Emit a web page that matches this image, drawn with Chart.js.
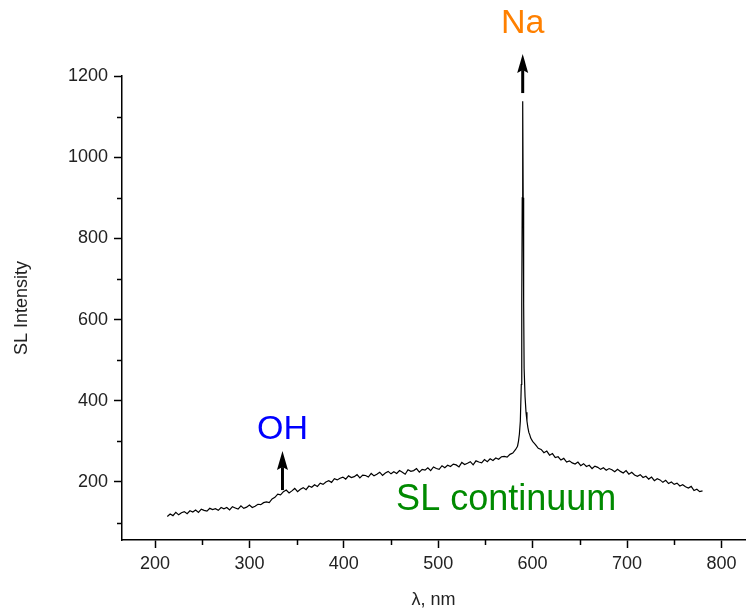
<!DOCTYPE html>
<html>
<head>
<meta charset="utf-8">
<script src="https://cdn.jsdelivr.net/npm/chart.js@4.4.1/dist/chart.umd.min.js"></script>
<style>
html,body{margin:0;padding:0;background:#fff;}
#wrap{width:746px;height:612px;}
</style>
</head>
<body>
<div id="wrap"><canvas id="c" width="746" height="612"></canvas></div>
<script>
// ---- data ----
const wavelengths = [
213,216,219,222,225,228,231,234,237,240,243,246,249,252,255,258,261,264,267,270,
273,276,279,282,285,288,291,294,297,300,303,306,309,312,315,318,321,324,327,330,
333,336,339,342,345,348,351,354,357,360,363,366,369,372,375,378,381,384,387,390,
393,396,399,402,405,408,411,414,417,420,423,426,429,432,435,438,441,444,447,450,
453,456,459,462,465,468,471,474,477,480,483,486,489,492,495,498,501,504,507,510,
513,516,519,522,525,528,531,534,537,540,543,546,549,552,555,558,561,564,567,570,
573,576,579,582,584,585,586,587,588,588.5,589,589.5,590,590.5,591,592,593,594,595,596,
597,598,600,603,606,609,612,615,618,621,624,627,630,633,636,639,642,645,648,651,
654,657,660,663,666,669,672,675,678,681,684,687,690,693,696,699,702,705,708,711,
714,717,720,723,726,729,732,735,738,741,744,747,750,753,756,759,762,765,768,771,
774,777,780
];
const intensity = [
115,121,117,125,119,124,127,122,129,126,131,125,133,130,128,135,132,134,130,137,
134,137,131,139,136,133,141,135,138,143,137,140,145,144,149,151,149,158,162,170,
168,176,180,173,178,184,176,182,186,181,190,187,193,189,197,194,200,203,199,208,
205,209,212,207,215,211,213,218,210,217,216,212,221,215,219,224,216,222,226,220,
225,221,228,224,219,230,226,228,233,224,231,229,235,228,237,233,231,240,235,241,
238,244,242,237,248,243,246,250,242,252,249,247,255,250,257,253,259,256,262,263,
261,268,271,280,288,300,318,350,440,640,900,1138,900,640,480,410,372,350,334,322,
316,308,300,292,283,280,272,276,266,270,260,262,254,258,249,252,247,244,249,240,
245,238,241,233,239,236,231,235,229,233,230,225,231,226,222,228,219,224,217,214,
218,211,214,207,212,203,208,205,199,204,196,200,194,197,190,193,188,185,189,179,
182,176,178
];
const xMajorTicks = [200,300,400,500,600,700,800];
const xMinorTicks = [250,350,450,550,650,750];
const yMajorTicks = [200,400,600,800,1000,1200];
const yMinorTicks = [100,300,500,700,900,1100];
const xTitle = 'λ, nm';
const yTitle = 'SL Intensity';
const annotations = [
  {text:'Na', color:'#ff8000', x:589.5, y:1330, size:34, arrowFrom:1158, arrowTo:1254},
  {text:'OH', color:'#0000ff', x:335, y:330, size:34, arrowFrom:180, arrowTo:276},
  {text:'SL continuum', color:'#008a00', x:572, y:156, size:36}
];

const FONT = "'Liberation Sans', Arial, sans-serif";

const extras = {
  id:'extras',
  afterDraw(chart){
    const ctx = chart.ctx;
    const xs = chart.scales.x, ys = chart.scales.y;
    ctx.save();
    ctx.strokeStyle = '#000';
    ctx.lineWidth = 1.5;
    xMinorTicks.forEach(v=>{
      const px = Math.round(xs.getPixelForValue(v))+0.5;
      ctx.beginPath(); ctx.moveTo(px, xs.top); ctx.lineTo(px, xs.top+5); ctx.stroke();
    });
    yMinorTicks.forEach(v=>{
      const py = Math.round(ys.getPixelForValue(v))+0.5;
      ctx.beginPath(); ctx.moveTo(ys.right, py); ctx.lineTo(ys.right-5, py); ctx.stroke();
    });
    annotations.forEach(a=>{
      const px = xs.getPixelForValue(a.x);
      const py = ys.getPixelForValue(a.y);
      ctx.fillStyle = a.color;
      ctx.font = a.size + 'px ' + FONT;
      ctx.textAlign = 'center';
      ctx.textBaseline = 'middle';
      ctx.fillText(a.text, px, py);
      if (a.arrowFrom !== undefined){
        const y0 = ys.getPixelForValue(a.arrowFrom);
        const y1 = ys.getPixelForValue(a.arrowTo);
        ctx.strokeStyle = '#000';
        ctx.fillStyle = '#000';
        ctx.lineWidth = 3;
        ctx.beginPath(); ctx.moveTo(px, y0); ctx.lineTo(px, y1+16); ctx.stroke();
        ctx.beginPath();
        ctx.moveTo(px, y1);
        ctx.lineTo(px-5.5, y1+19);
        ctx.lineTo(px, y1+16);
        ctx.lineTo(px+5.5, y1+19);
        ctx.closePath(); ctx.fill();
      }
    });
    ctx.restore();
  }
};

new Chart(document.getElementById('c'), {
  type:'line',
  data:{
    datasets:[{
      data: wavelengths.map((w,i)=>({x:w, y:intensity[i]})),
      borderColor:'#000',
      borderWidth:1.2,
      pointRadius:0,
      tension:0,
      fill:false
    }]
  },
  options:{
    responsive:false,
    animation:false,
    devicePixelRatio:1,
    layout:{padding:{top:76,right:1,bottom:0,left:0}},
    plugins:{legend:{display:false}, tooltip:{enabled:false}},
    scales:{
      x:{
        type:'linear', min:165, max:825,
        afterBuildTicks(s){ s.ticks = xMajorTicks.map(v=>({value:v})); },
        afterFit(s){ s.height = 72; },
        grid:{display:true, drawOnChartArea:false, drawTicks:true, tickLength:8, tickColor:'#000', tickWidth:1.5},
        border:{display:true, color:'#000', width:1.5},
        ticks:{color:'#222', font:{family:FONT, size:18}, padding:5, maxRotation:0, autoSkip:false,
               callback:(v)=>String(v)},
        title:{display:true, text:xTitle, color:'#222', font:{family:FONT, size:18}, padding:{top:0,bottom:1}}
      },
      y:{
        type:'linear', min:57, max:1200,
        afterBuildTicks(s){ s.ticks = yMajorTicks.map(v=>({value:v})); },
        afterFit(s){ s.width = 122; },
        grid:{display:true, drawOnChartArea:false, drawTicks:true, tickLength:8, tickColor:'#000', tickWidth:1.5},
        border:{display:true, color:'#000', width:1.5},
        ticks:{color:'#222', font:{family:FONT, size:18}, padding:6, autoSkip:false,
               callback:(v)=>String(v)},
        title:{display:true, text:yTitle, color:'#222', font:{family:FONT, size:18}, padding:{top:11,bottom:0}}
      }
    }
  },
  plugins:[extras]
});
</script>
</body>
</html>
